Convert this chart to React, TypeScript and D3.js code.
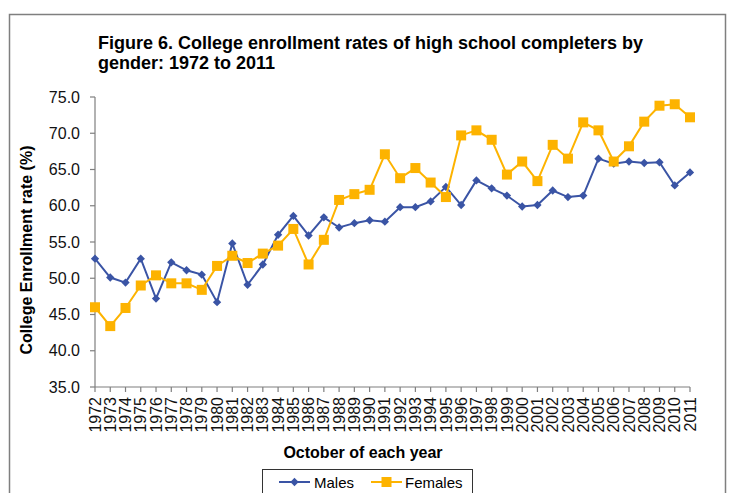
import React from "react";
import * as d3 from "d3";

// October of each year, 1972–2011
const years: number[] = d3.range(1972, 2012);

const males: number[] = [
  52.7, 50.1, 49.4, 52.7, 47.2, 52.2, 51.1, 50.5, 46.7, 54.8,
  49.1, 51.9, 56.0, 58.6, 55.9, 58.4, 57.0, 57.6, 58.0, 57.8,
  59.8, 59.8, 60.6, 62.6, 60.1, 63.5, 62.4, 61.4, 59.9, 60.1,
  62.1, 61.2, 61.4, 66.5, 65.8, 66.1, 65.9, 66.0, 62.8, 64.6,
];

const females: number[] = [
  46.0, 43.4, 45.9, 49.0, 50.4, 49.3, 49.3, 48.4, 51.7, 53.1,
  52.1, 53.4, 54.5, 56.8, 51.9, 55.3, 60.8, 61.6, 62.2, 67.1,
  63.8, 65.2, 63.2, 61.2, 69.7, 70.4, 69.1, 64.3, 66.1, 63.4,
  68.4, 66.5, 71.5, 70.4, 66.1, 68.2, 71.6, 73.8, 74.0, 72.2,
];

const yTicks: number[] = [35, 40, 45, 50, 55, 60, 65, 70, 75];

const titleLines: string[] = [
  "Figure 6. College enrollment rates of high school completers by",
  "gender: 1972 to 2011",
];

const W = 732;
const H = 493;
const plot = { left: 95, right: 690, top: 97, bottom: 387 };

const BLUE = "#3A54A5";
const ORANGE = "#FDB300";
const AXIS = "#7f7f7f";
const FONT = "'Liberation Sans', Arial, sans-serif";

export default function App() {
  const x = d3
    .scalePoint<number>()
    .domain(years)
    .range([plot.left, plot.right]);
  const y = d3.scaleLinear().domain([35, 75]).range([plot.bottom, plot.top]);

  const line = d3
    .line<number>()
    .x((_, i) => x(years[i]) as number)
    .y((v) => y(v));

  const diamond = d3.symbol().type(d3.symbolDiamond2).size(44)();
  const sq = 10;

  return (
    <svg
      width={W}
      height={H}
      style={{ position: "absolute", left: 0, top: 0, background: "#fff" }}
      fontFamily={FONT}
    >
      <rect x={0} y={0} width={W} height={H} fill="#fff" />
      {/* chart frame */}
      <rect
        x={9.5}
        y={14.5}
        width={716}
        height={H}
        fill="none"
        stroke={AXIS}
        strokeWidth={1.5}
      />

      {/* title */}
      <text fontSize={18} fontWeight="bold" fill="#000">
        {titleLines.map((t, i) => (
          <tspan key={i} x={98} y={49 + i * 20}>
            {t}
          </tspan>
        ))}
      </text>

      {/* y axis */}
      <line
        x1={plot.left}
        x2={plot.left}
        y1={plot.top}
        y2={plot.bottom}
        stroke={AXIS}
        strokeWidth={1.2}
      />
      {yTicks.map((t) => (
        <g key={t}>
          <line
            x1={plot.left - 5}
            x2={plot.left}
            y1={y(t)}
            y2={y(t)}
            stroke={AXIS}
            strokeWidth={1.2}
          />
          <text
            x={80}
            y={y(t)}
            dy="0.35em"
            textAnchor="end"
            fontSize={16}
            fill="#111"
          >
            {d3.format(".1f")(t)}
          </text>
        </g>
      ))}

      {/* x axis */}
      <line
        x1={plot.left}
        x2={plot.right}
        y1={plot.bottom}
        y2={plot.bottom}
        stroke={AXIS}
        strokeWidth={1.2}
      />
      {years.map((yr) => {
        const px = x(yr) as number;
        return (
          <g key={yr}>
            <line
              x1={px}
              x2={px}
              y1={plot.bottom}
              y2={plot.bottom + 5}
              stroke={AXIS}
              strokeWidth={1.2}
            />
            <text
              transform={`translate(${px},${plot.bottom + 10}) rotate(-90)`}
              dy="0.35em"
              textAnchor="end"
              fontSize={16}
              fill="#111"
            >
              {yr}
            </text>
          </g>
        );
      })}

      {/* axis titles */}
      <text
        transform={`translate(32,${(plot.top + plot.bottom) / 2 + 8}) rotate(-90)`}
        textAnchor="middle"
        fontSize={16}
        fontWeight="bold"
        fill="#000"
      >
        College Enrollment rate (%)
      </text>
      <text
        x={363}
        y={458}
        textAnchor="middle"
        fontSize={16}
        fontWeight="bold"
        fill="#000"
      >
        October of each year
      </text>

      {/* series */}
      <path d={line(males) ?? ""} fill="none" stroke={BLUE} strokeWidth={2} />
      {males.map((v, i) => (
        <path
          key={`m${i}`}
          d={diamond ?? ""}
          transform={`translate(${x(years[i])},${y(v)})`}
          fill={BLUE}
        />
      ))}
      <path d={line(females) ?? ""} fill="none" stroke={ORANGE} strokeWidth={2} />
      {females.map((v, i) => (
        <rect
          key={`f${i}`}
          x={(x(years[i]) as number) - sq / 2}
          y={y(v) - sq / 2}
          width={sq}
          height={sq}
          fill={ORANGE}
        />
      ))}

      {/* legend */}
      <rect
        x={262.5}
        y={469.5}
        width={210}
        height={40}
        fill="#fff"
        stroke="#333"
        strokeWidth={1}
      />
      <line x1={279} x2={310} y1={482} y2={482} stroke={BLUE} strokeWidth={2} />
      <path d={diamond ?? ""} transform="translate(294.5,482)" fill={BLUE} />
      <text x={314} y={487.5} fontSize={15} fill="#000">
        Males
      </text>
      <line x1={371} x2={402} y1={482} y2={482} stroke={ORANGE} strokeWidth={2} />
      <rect x={386.5 - sq / 2} y={482 - sq / 2} width={sq} height={sq} fill={ORANGE} />
      <text x={405} y={487.5} fontSize={15} fill="#000">
        Females
      </text>
    </svg>
  );
}
